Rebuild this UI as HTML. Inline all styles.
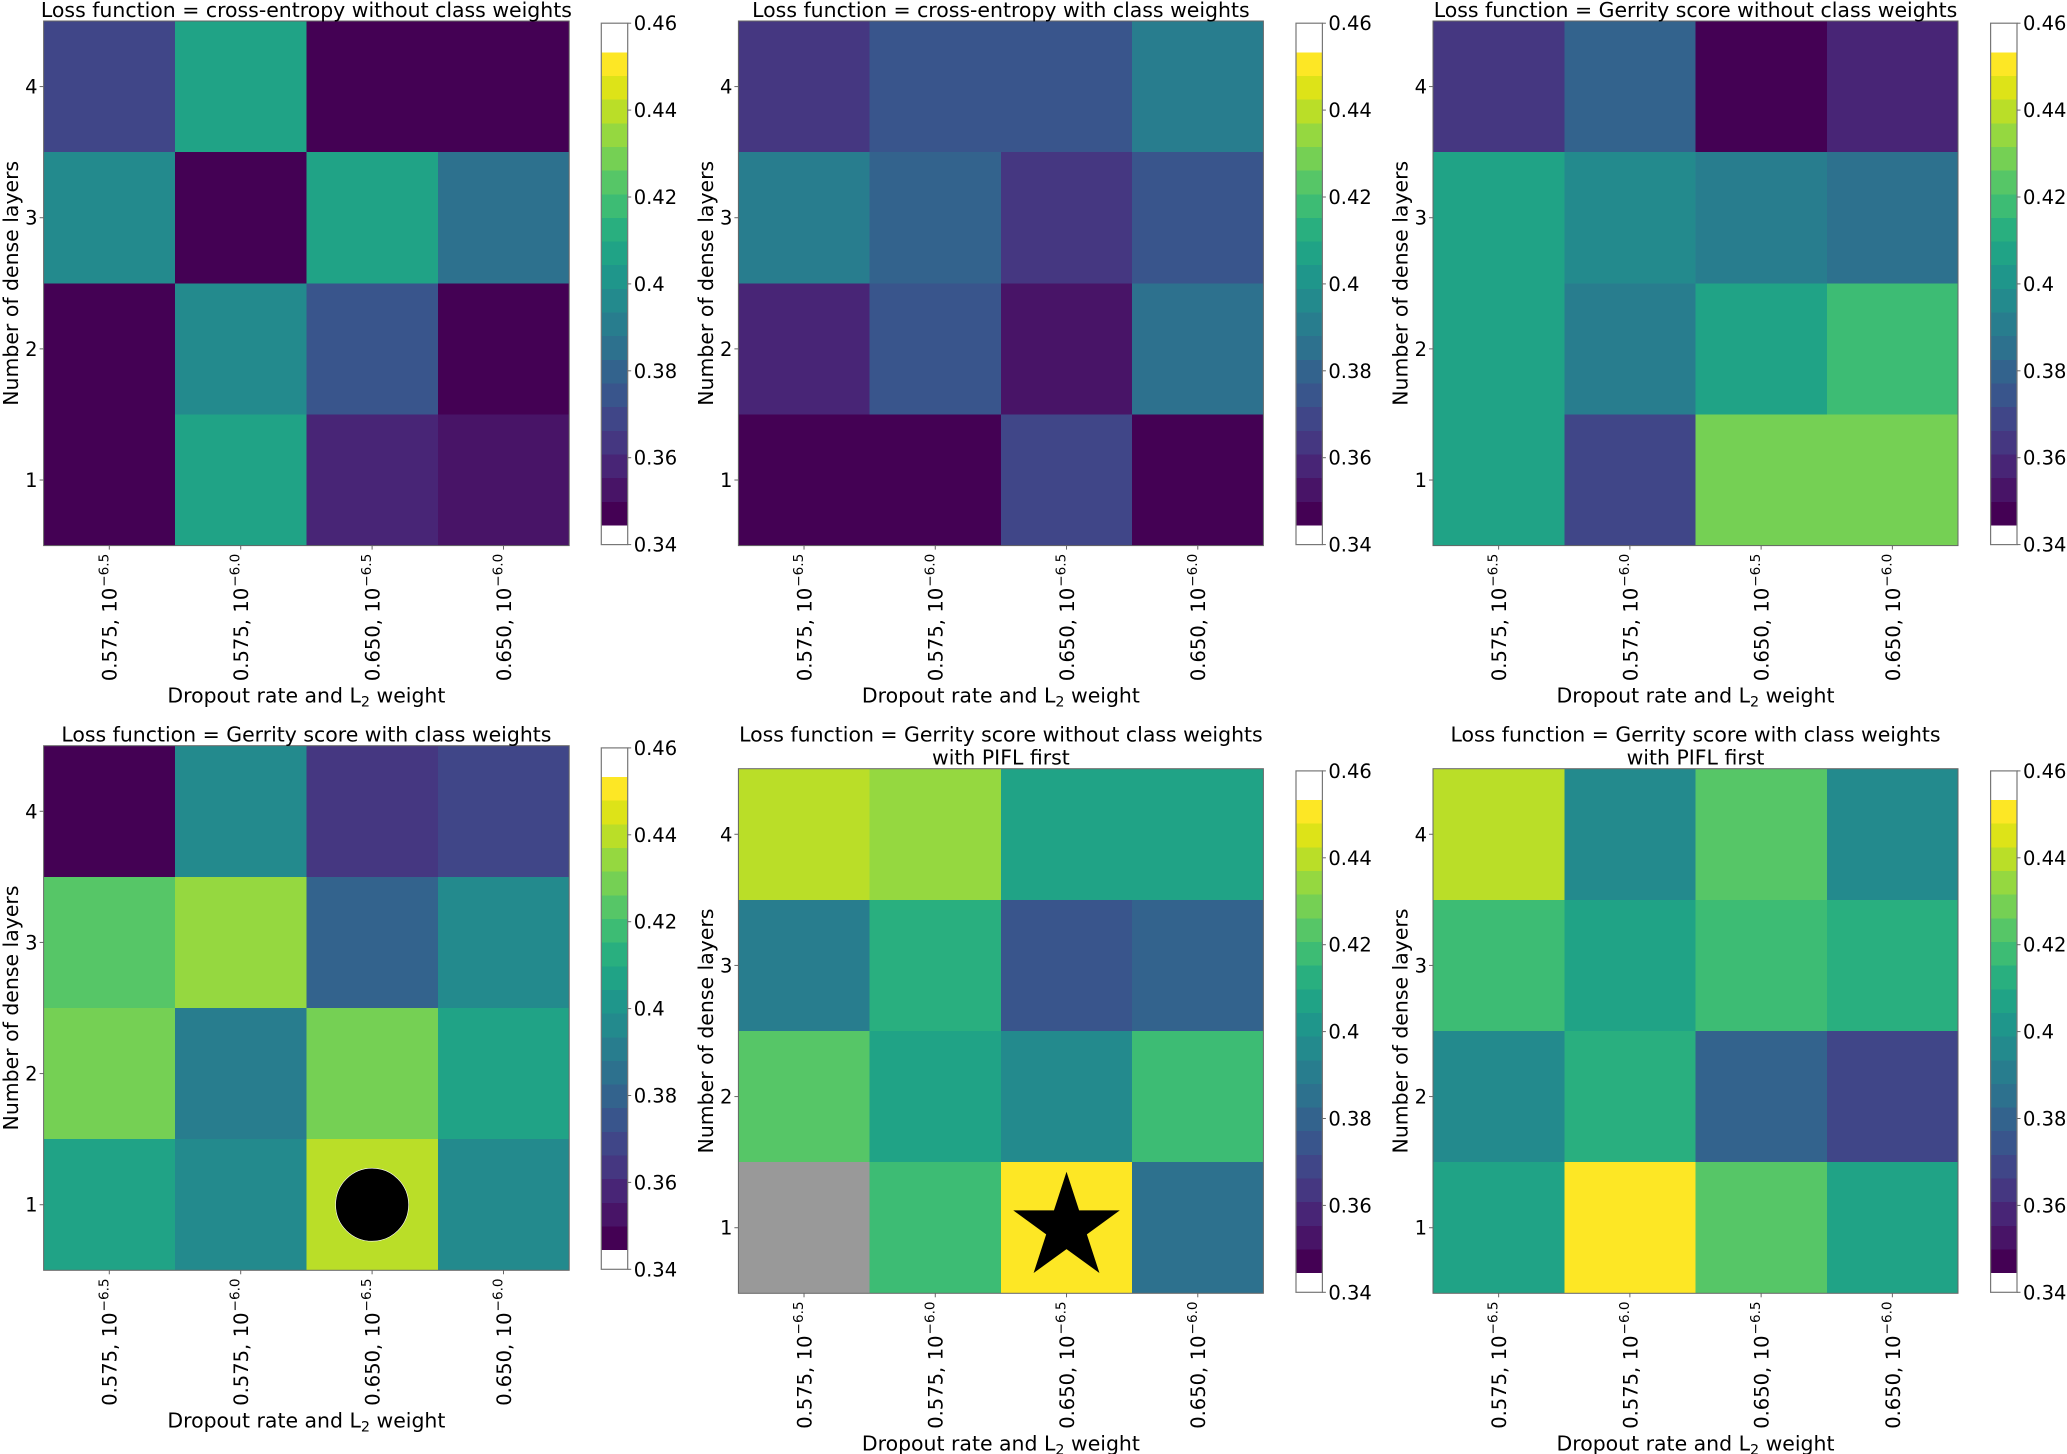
<!DOCTYPE html>
<html lang="en">
<head>
<meta charset="utf-8">
<title>Loss function comparison heatmaps</title>
<style>
html,body{margin:0;padding:0;background:#fff;width:2067px;height:1454px;overflow:hidden}
svg{display:block}
text{font-family:"DejaVu Sans","Liberation Sans",sans-serif;fill:#000}
</style>
</head>
<body>
<svg id="figure" xmlns="http://www.w3.org/2000/svg" width="2067" height="1454" viewBox="0 0 2067 1454"></svg>
<script>
// ---------- chart data ----------
const dropoutRates = ['0.575', '0.575', '0.650', '0.650'];
const l2Exponents = ['−6.5', '−6.0', '−6.5', '−6.0'];
const layerCounts = [4, 3, 2, 1];
const colorbarTicks = [0.46, 0.44, 0.42, 0.4, 0.38, 0.36, 0.34];
const colorbarTickLabels = ['0.46', '0.44', '0.42', '0.4', '0.38', '0.36', '0.34'];
const viridisBands = ['#440154','#481467','#482576','#453781','#404688','#39558c','#33638d','#2d718e','#287d8e','#238a8d','#1f968b','#20a386','#29af7f','#3dbc74','#56c667','#75d054','#95d840','#bade28','#dde318','#fde725'];
const levelMin = 0.3444;
const levelMax = 0.4533;
const axisMin = 0.34;
const axisMax = 0.46;

// Each row runs from 4 dense layers (top) down to 1; columns follow the x categories.
const crossEntropyNoWeights = [
  [0.369, 0.407, 0.347, 0.347],
  [0.396, 0.347, 0.407, 0.385],
  [0.347, 0.396, 0.374, 0.347],
  [0.347, 0.407, 0.358, 0.353]
];
const crossEntropyWeights = [
  [0.364, 0.374, 0.374, 0.391],
  [0.391, 0.380, 0.364, 0.374],
  [0.358, 0.374, 0.353, 0.385],
  [0.347, 0.347, 0.369, 0.347]
];
const gerrityNoWeights = [
  [0.364, 0.380, 0.347, 0.358],
  [0.407, 0.396, 0.391, 0.385],
  [0.407, 0.391, 0.407, 0.418],
  [0.407, 0.369, 0.429, 0.429]
];
const gerrityWeights = [
  [0.347, 0.396, 0.364, 0.369],
  [0.423, 0.434, 0.380, 0.396],
  [0.429, 0.391, 0.429, 0.407],
  [0.407, 0.396, 0.440, 0.396]
];
const gerrityNoWeightsPifl = [
  [0.440, 0.434, 0.407, 0.407],
  [0.391, 0.412, 0.374, 0.380],
  [0.423, 0.407, 0.396, 0.418],
  [null,  0.418, 0.451, 0.385]
];
const gerrityWeightsPifl = [
  [0.440, 0.396, 0.423, 0.396],
  [0.418, 0.407, 0.418, 0.412],
  [0.396, 0.412, 0.380, 0.369],
  [0.407, 0.451, 0.423, 0.407]
];

const panelTitles = [
  ['Loss function = cross-entropy without class weights'],
  ['Loss function = cross-entropy with class weights'],
  ['Loss function = Gerrity score without class weights'],
  ['Loss function = Gerrity score with class weights'],
  ['Loss function = Gerrity score without class weights', 'with PIFL first'],
  ['Loss function = Gerrity score with class weights', 'with PIFL first']
];
const panelValues = [crossEntropyNoWeights, crossEntropyWeights, gerrityNoWeights, gerrityWeights, gerrityNoWeightsPifl, gerrityWeightsPifl];
const panelSlugs = ['ce-no-weights', 'ce-weights', 'gerrity-no-weights', 'gerrity-weights', 'gerrity-no-weights-pifl', 'gerrity-weights-pifl'];
// Marker cells: panel index, column index, row index (row 3 = 1 dense layer)
const circleMarker = [3, 2, 3];
const starMarker = [4, 2, 3];

// ---------- layout ----------
const layout = [
  {l:43.6, t:21, w:525.6, h:524.6, cb:601.3},
  {l:738.4, t:21, w:525, h:524.6, cb:1296},
  {l:1433, t:21, w:525, h:524.6, cb:1990.6},
  {l:43.6, t:745.7, w:525.6, h:524.6, cb:601.3},
  {l:738.4, t:768.7, w:525, h:524.6, cb:1296},
  {l:1433, t:768.7, w:525, h:524.6, cb:1990.6}
];
const CB_WIDTH = 26.4;
const INK = '#666';
const LABEL_SIZE = 20.45;
const svg = document.getElementById('figure');

function mk(tag, attrs, parent, txt) {
  const el = document.createElementNS('http://www.w3.org/2000/svg', tag);
  for (const k in attrs) el.setAttribute(k, attrs[k]);
  if (txt !== undefined) el.textContent = txt;
  (parent || svg).appendChild(el);
  return el;
}

function bandIndex(v) {
  const n = viridisBands.length;
  const i = Math.floor((v - levelMin) / (levelMax - levelMin) * n);
  return Math.max(0, Math.min(n - 1, i));
}
function cellColor(v) {
  return v === null ? '#999999' : viridisBands[bandIndex(v)];
}

panelValues.forEach(function (values, p) {
  const box = layout[p];
  const slug = panelSlugs[p];
  const colW = box.w / dropoutRates.length;
  const rowH = box.h / layerCounts.length;
  const xAt = function (c) { return box.l + c * colW; };
  const yAt = function (r) { return box.t + r * rowH; };
  const cbTop = box.t + 2.2;
  const cbBottom = box.t + box.h - 1;
  const cbY = function (v) { return cbBottom - (v - axisMin) / (axisMax - axisMin) * (cbBottom - cbTop); };

  const panel = mk('g', {});
  
  

  // heatmap cells
  values.forEach(function (row, r) {
    row.forEach(function (v, c) {
      const cell = mk('rect', {x: xAt(c), y: yAt(r), width: colW, height: rowH, fill: cellColor(v), 'shape-rendering': 'crispEdges'}, panel);
      
      
    });
  });

  // axes frame
  const frame = mk('rect', {x: box.l, y: box.t, width: box.w, height: box.h, fill: 'none', stroke: INK, 'stroke-width': 1}, panel);
  
  

  // y ticks
  layerCounts.forEach(function (lab, r) {
    const y = yAt(r + 0.5);
    const tick = mk('line', {x1: box.l - 4, x2: box.l, y1: y, y2: y, stroke: INK, 'stroke-width': 1}, panel);
    
    
    const label = mk('text', {x: box.l - 6, y: y + 7, 'text-anchor': 'end', 'font-size': 19.5}, panel, String(lab));
    
    
  });

  // x ticks
  dropoutRates.forEach(function (rate, c) {
    const x = xAt(c + 0.5);
    const bottom = box.t + box.h;
    const tick = mk('line', {x1: x, x2: x, y1: bottom, y2: bottom + 4, stroke: INK, 'stroke-width': 1}, panel);
    
    
    const label = mk('text', {transform: 'translate(' + (x + 7.4) + ',' + (bottom + 135.5) + ') rotate(-90)', 'font-size': 19.5}, panel);
    
    
    mk('tspan', {}, label, rate + ',');
    mk('tspan', {dx: 6.5}, label, '10');
    mk('tspan', {dx: 1, dy: -8.4, 'font-size': 13.6}, label, l2Exponents[c]);
  });

  // axis labels
  const cx = box.l + box.w / 2;
  const xTitle = mk('text', {x: cx, y: box.t + box.h + 157, 'text-anchor': 'middle', 'font-size': LABEL_SIZE}, panel);
  
  
  mk('tspan', {}, xTitle, 'Dropout rate and L');
  mk('tspan', {dy: 4, 'font-size': 14.3}, xTitle, '2');
  mk('tspan', {dy: -4, dx: 0}, xTitle, ' weight');

  const yTitle = mk('text', {transform: 'translate(' + (box.l - 25.5) + ',' + (box.t + box.h / 2) + ') rotate(-90)', 'text-anchor': 'middle', 'font-size': LABEL_SIZE}, panel, 'Number of dense layers');
  
  

  // title
  const lines = panelTitles[p];
  lines.forEach(function (line, i) {
    const baseline = box.t - 4 - (lines.length - 1 - i) * 23;
    const title = mk('text', {x: cx, y: baseline, 'text-anchor': 'middle', 'font-size': LABEL_SIZE}, panel, line);
    
    
  });

  // colorbar
  const n = viridisBands.length;
  viridisBands.forEach(function (color, i) {
    const lo = levelMin + (levelMax - levelMin) * i / n;
    const hi = levelMin + (levelMax - levelMin) * (i + 1) / n;
    const band = mk('rect', {x: box.cb, y: cbY(hi), width: CB_WIDTH, height: cbY(lo) - cbY(hi), fill: color, 'shape-rendering': 'crispEdges'}, panel);
    
    
  });
  const cbFrame = mk('rect', {x: box.cb, y: cbTop, width: CB_WIDTH, height: cbBottom - cbTop, fill: 'none', stroke: '#777', 'stroke-width': 1.2}, panel);
  
  
  colorbarTicks.forEach(function (v, i) {
    const y = cbY(v);
    const tick = mk('line', {x1: box.cb + CB_WIDTH, x2: box.cb + CB_WIDTH + 3.5, y1: y, y2: y, stroke: INK, 'stroke-width': 1}, panel);
    
    
    const label = mk('text', {x: box.cb + CB_WIDTH + 6, y: y + 7, 'font-size': 19.5}, panel, colorbarTickLabels[i]);
    
    
  });

  // markers
  if (circleMarker[0] === p) {
    const circle = mk('circle', {cx: xAt(circleMarker[1] + 0.5), cy: yAt(circleMarker[2] + 0.5), r: 36.5, fill: '#000', stroke: '#fff', 'stroke-width': 0.6}, panel);
    
    
  }
  if (starMarker[0] === p) {
    const sx = xAt(starMarker[1] + 0.5);
    const sy = yAt(starMarker[2] + 0.5);
    const R = 56;
    const inner = R * 0.381966;
    const pts = [];
    for (let k = 0; k < 10; k++) {
      const a = -Math.PI / 2 + k * Math.PI / 5;
      const rad = k % 2 ? inner : R;
      pts.push((sx + rad * Math.cos(a)).toFixed(2) + ',' + (sy + rad * Math.sin(a)).toFixed(2));
    }
    const star = mk('polygon', {points: pts.join(' '), fill: '#000'}, panel);
    
    
  }
});
</script>
</body>
</html>
